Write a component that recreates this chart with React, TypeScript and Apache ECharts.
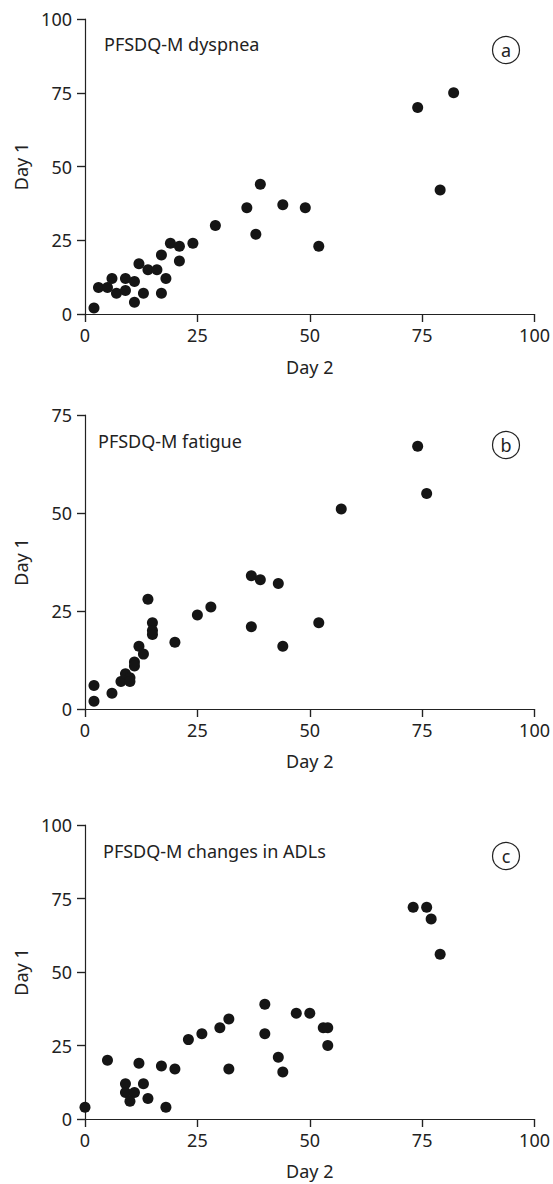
import React, { useEffect, useRef } from "react";
import * as echarts from "echarts";

const panelTitles = ["PFSDQ-M dyspnea", "PFSDQ-M fatigue", "PFSDQ-M changes in ADLs"];
const panelLetters = ["a", "b", "c"];
const xAxisName = "Day 2";
const yAxisName = "Day 1";
const yMaxes = [100, 75, 100];

// [Day 2, Day 1]
const dyspnea: number[][] = [
  [2, 2], [3, 9], [5, 9], [6, 12], [7, 7], [9, 12], [9, 8], [11, 11], [11, 4],
  [12, 17], [13, 7], [14, 15], [16, 15], [17, 20], [17, 7], [18, 12], [19, 24],
  [21, 23], [21, 18], [24, 24], [29, 30], [36, 36], [38, 27], [39, 44], [44, 37],
  [49, 36], [52, 23], [74, 70], [79, 42], [82, 75],
];
const fatigue: number[][] = [
  [2, 6], [2, 2], [6, 4], [8, 7], [9, 9], [10, 8], [10, 7], [11, 12], [11, 11],
  [12, 16], [13, 14], [14, 28], [15, 22], [15, 20], [15, 19], [20, 17], [25, 24],
  [28, 26], [37, 34], [39, 33], [43, 32], [37, 21], [44, 16], [52, 22], [57, 51],
  [74, 67], [76, 55],
];
const adls: number[][] = [
  [0, 4], [5, 20], [9, 12], [9, 9], [11, 9], [10, 6], [12, 19], [13, 12], [14, 7],
  [17, 18], [18, 4], [20, 17], [23, 27], [26, 29], [30, 31], [32, 34], [32, 17],
  [40, 39], [40, 29], [43, 21], [44, 16], [47, 36], [50, 36], [53, 31], [54, 31],
  [54, 25], [73, 72], [76, 72], [77, 68], [79, 56],
];
const panelData = [dyspnea, fatigue, adls];

const FONT = "'Noto Sans', sans-serif";
const INK = "#222";
const FS = 18;

export default function App() {
  const ref = useRef<HTMLDivElement>(null);
  useEffect(() => {
    document.body.style.margin = "0";
    if (!ref.current) return;
    const chart = echarts.init(ref.current, undefined, { renderer: "svg" });
    const grids = [
      { left: 85, right: 18, top: 19, height: 295 },
      { left: 85, right: 18, top: 415, height: 294 },
      { left: 85, right: 18, top: 825, height: 294 },
    ];
    const xNameGaps = [44, 43, 43];
    const xAxes: any[] = [];
    const yAxes: any[] = [];
    const series: any[] = [];
    const graphics: any[] = [];
    const titleTops = [44, 441, 851];
    const titleLefts = [104, 98, 103];
    const circleYs = [50, 445, 856];
    grids.forEach((g, i) => {
      const lineStyle = { color: INK, width: 1.2 };
      const label = { color: INK, fontFamily: FONT, fontSize: FS };
      xAxes.push({
        gridIndex: i, type: "value", min: 0, max: 100, interval: 25,
        axisLine: { show: true, lineStyle },
        axisTick: { show: true, length: 8, inside: false, lineStyle },
        axisLabel: { ...label, margin: 12 },
        splitLine: { show: false },
        name: xAxisName, nameLocation: "middle", nameGap: xNameGaps[i],
        nameTextStyle: { ...label },
      });
      xAxes.push({
        gridIndex: i, type: "value", min: 0, max: 100, interval: 25,
        axisLine: { show: false },
        axisTick: { show: true, length: 8, inside: true, lineStyle },
        axisLabel: { show: false },
        splitLine: { show: false },
      });
      yAxes.push({
        gridIndex: i, type: "value", min: 0, max: yMaxes[i], interval: 25,
        axisLine: { show: true, lineStyle },
        axisTick: { show: true, length: 8, inside: false, lineStyle },
        axisLabel: { ...label, margin: 13 },
        splitLine: { show: false },
        name: yAxisName, nameLocation: "middle", nameGap: 55, nameRotate: 90,
        nameTextStyle: { ...label },
      });
      yAxes.push({
        gridIndex: i, type: "value", min: 0, max: yMaxes[i], interval: 25,
        axisLine: { show: false },
        axisTick: { show: true, length: 8, inside: true, lineStyle },
        axisLabel: { show: false },
        splitLine: { show: false },
      });
      series.push({
        type: "scatter",
        xAxisIndex: 2 * i, yAxisIndex: 2 * i,
        data: panelData[i],
        symbolSize: 11,
        itemStyle: { color: "#151515", opacity: 1 },
      });
      graphics.push({
        type: "text", x: titleLefts[i], y: titleTops[i],
        style: { text: panelTitles[i], fill: INK, font: `${FS}px ${FONT}`, verticalAlign: "middle" },
      });
      graphics.push({
        type: "circle", shape: { cx: 506, cy: circleYs[i], r: 13.5 },
        style: { fill: "none", stroke: INK, lineWidth: 1.2 },
      });
      graphics.push({
        type: "text", x: 506, y: circleYs[i],
        style: { text: panelLetters[i], fill: INK, font: `${FS}px ${FONT}`, align: "center", verticalAlign: "middle" },
      });
    });
    chart.setOption({
      animation: false,
      backgroundColor: "#fff",
      grid: grids,
      xAxis: xAxes,
      yAxis: yAxes,
      series,
      graphic: graphics,
    });
    return () => chart.dispose();
  }, []);
  return <div ref={ref} style={{ width: 553, height: 1184 }} />;
}
